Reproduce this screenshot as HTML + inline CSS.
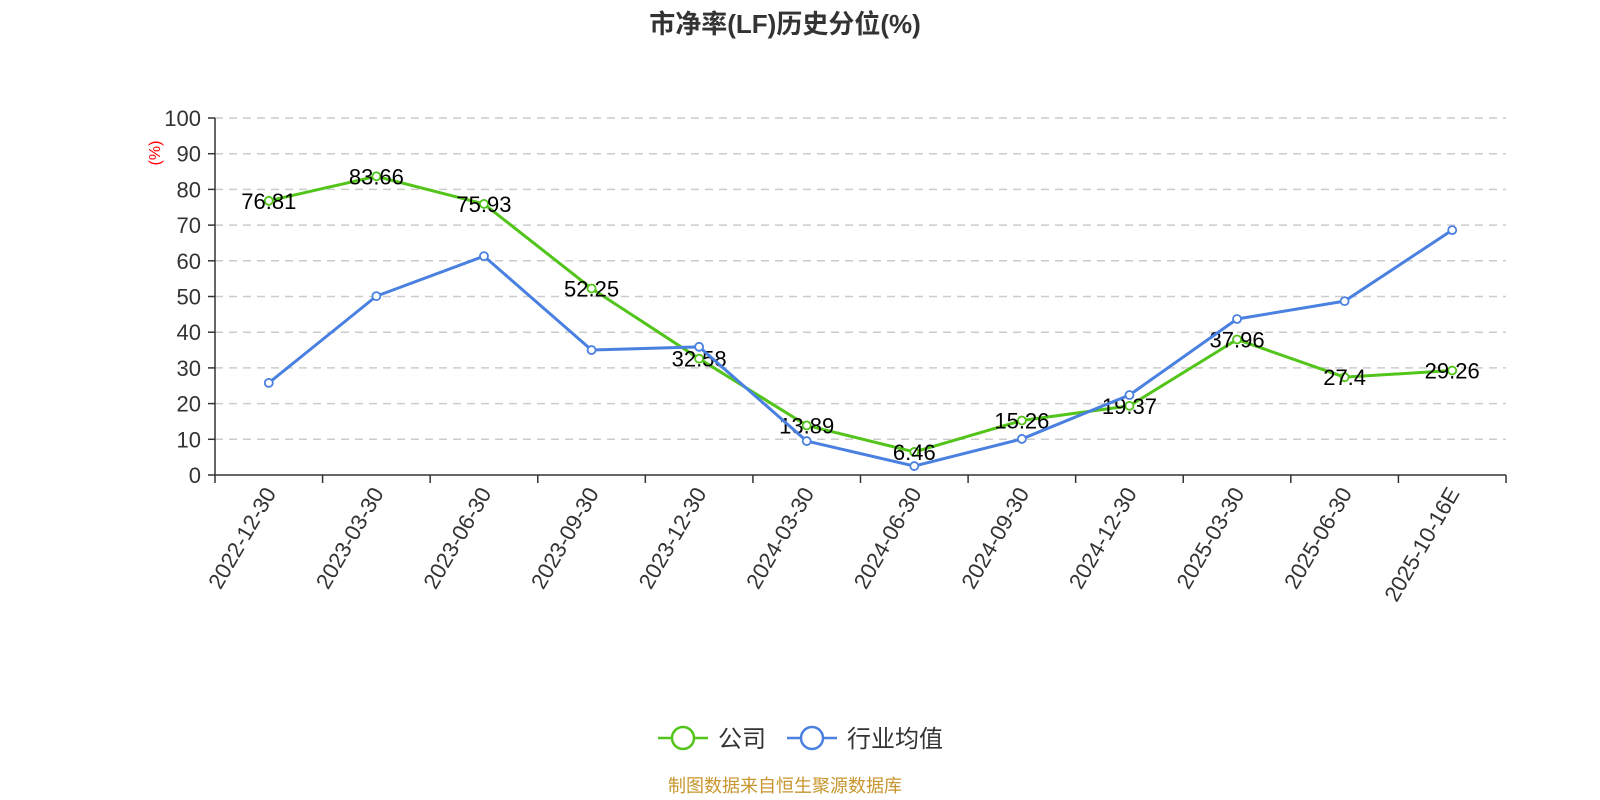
<!DOCTYPE html>
<html><head><meta charset="utf-8"><style>
html,body{margin:0;padding:0;background:#fff;}
svg{display:block;font-family:"Liberation Sans","Noto Sans CJK SC",sans-serif;}
</style></head><body>
<svg id="chart" width="1600" height="800" viewBox="0 0 1600 800">
<text x="785" y="33" text-anchor="middle" font-size="26" font-weight="bold" fill="#333">市净率(LF)历史分位(%)</text>
<text transform="translate(160,153) rotate(-90)" text-anchor="middle" font-size="16" fill="#ff0000">(%)</text>
<g id="grid"></g>
<g id="axes"></g>
<g id="series"></g>
<g>
<g>
<line x1="658" y1="738" x2="708" y2="738" stroke="#52c41a" stroke-width="2.5"/>
<circle cx="683" cy="738" r="11" fill="#fff" stroke="#52c41a" stroke-width="2.5"/>
<text x="718" y="747" font-size="24" fill="#333">公司</text>
</g>
<g>
<line x1="787" y1="738" x2="837" y2="738" stroke="#4a80e0" stroke-width="2.5"/>
<circle cx="812" cy="738" r="11" fill="#fff" stroke="#4a80e0" stroke-width="2.5"/>
<text x="847" y="747" font-size="24" fill="#333">行业均值</text>
</g>
</g>
<text x="785" y="792" text-anchor="middle" font-size="18" fill="#c8962e">制图数据来自恒生聚源数据库</text>
</svg>
<script>
const categories=["2022-12-30","2023-03-30","2023-06-30","2023-09-30","2023-12-30","2024-03-30","2024-06-30","2024-09-30","2024-12-30","2025-03-30","2025-06-30","2025-10-16E"];
const companyValues=[76.81,83.66,75.93,52.25,32.58,13.89,6.46,15.26,19.37,37.96,27.4,29.26];
const industryValues=[25.8,50.1,61.3,35.0,35.9,9.5,2.5,10.1,22.4,43.7,48.7,68.6];
const yTicks=[0,10,20,30,40,50,60,70,80,90,100];
const NS="http://www.w3.org/2000/svg";
const X0=215,X1=1506,Y0=475,Y1=118;
const bw=(X1-X0)/categories.length;
function xs(i){return X0+bw*(i+0.5);}
function ys(v){return Y0-(v/100)*(Y0-Y1);}
function mk(tag,attrs,parent){const e=document.createElementNS(NS,tag);for(const k in attrs)e.setAttribute(k,attrs[k]);parent.appendChild(e);return e;}
const grid=document.getElementById('grid'),axes=document.getElementById('axes'),series=document.getElementById('series');
yTicks.forEach(t=>{
 const y=ys(t);
 if(t>0){const l=mk('line',{x1:X0,x2:X1,y1:y,y2:y,stroke:'#ccc','stroke-dasharray':'8,6','stroke-width':1.5},grid);
 
 }
 const tk=mk('line',{x1:X0-7,x2:X0,y1:y,y2:y,stroke:'#333','stroke-width':1.5},axes);
 
 
 const tx=mk('text',{x:X0-14,y:y+8,'text-anchor':'end','font-size':22,fill:'#333'},axes);
 tx.textContent=t;
 
 
});
const ya=mk('line',{x1:X0,x2:X0,y1:Y1,y2:Y0,stroke:'#333','stroke-width':1.5},axes);


const xa=mk('line',{x1:X0,x2:X1,y1:Y0,y2:Y0,stroke:'#333','stroke-width':1.5},axes);


for(let i=0;i<=categories.length;i++){
 const x=X0+bw*i;
 const tk=mk('line',{x1:x,x2:x,y1:Y0,y2:Y0+8,stroke:'#333','stroke-width':1.5},axes);
 
 
}
categories.forEach((c,i)=>{
 const x=xs(i)+8,y=Y0+18;
 const t=mk('text',{x:x,y:y,'text-anchor':'end','font-size':22,fill:'#333',transform:`rotate(-60 ${x} ${y})`},axes);
 t.textContent=c;
 
 
});
function drawSeries(vals,color,name,labels){
 const pts=vals.map((v,i)=>xs(i)+','+ys(v)).join(' ');
 const pl=mk('polyline',{points:pts,fill:'none',stroke:color,'stroke-width':3,'stroke-linejoin':'round'},series);
 
 
 vals.forEach((v,i)=>{
  const c=mk('circle',{cx:xs(i),cy:ys(v),r:4,fill:'#fff',stroke:color,'stroke-width':1.8},series);
  
  
 });
 if(labels){vals.forEach((v,i)=>{
  const t=mk('text',{x:xs(i),y:ys(v)+8,'text-anchor':'middle','font-size':22,fill:'#000'},series);
  t.textContent=v;
  
  
 });}
}
drawSeries(companyValues,'#52c41a','company',true);
drawSeries(industryValues,'#4a80e0','industry',false);
</script>
</body></html>
